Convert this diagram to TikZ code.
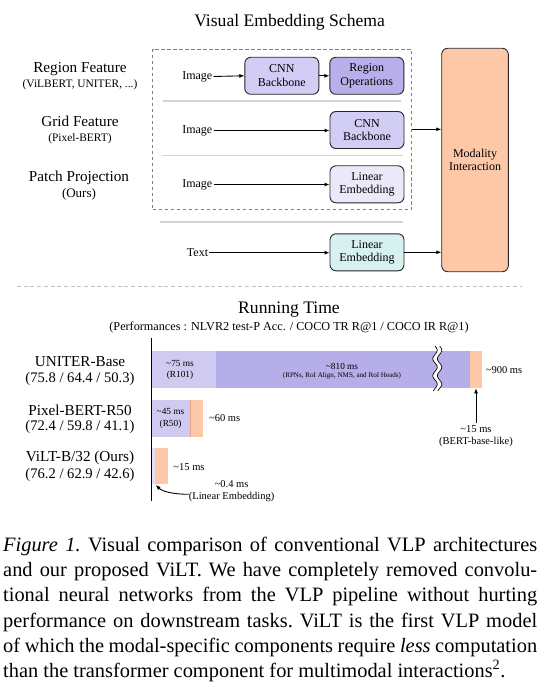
\documentclass[tikz,border=0pt]{standalone}
\usepackage{fontspec}
\setmainfont{Liberation Serif}
\usetikzlibrary{arrows.meta}
\definecolor{cnnfill}{HTML}{D2CDF5}
\definecolor{regfill}{HTML}{B9AFEB}
\definecolor{linfill}{HTML}{EBE8FA}
\definecolor{txtfill}{HTML}{D7F0F0}
\definecolor{modfill}{HTML}{FDC8A8}
\definecolor{barA}{HTML}{CFCAF0}
\definecolor{barB}{HTML}{B6AEE8}
\definecolor{barO}{HTML}{FCC8A8}
\definecolor{barOedge}{HTML}{EBA285}
\definecolor{barT}{HTML}{E2DFF8}
\tikzset{
  blk/.style={draw=black!85, line width=0.9pt, rounded corners=6pt, minimum width=74pt, minimum height=37pt, inner sep=0pt, align=center, font=\fontsize{12}{13.5}\selectfont},
  arr/.style={-{Latex[length=5pt,width=4pt]}, line width=0.9pt},
  mainlbl/.style={font=\fontsize{15.2}{17}\selectfont, inner sep=0pt},
  numlbl/.style={font=\fontsize{14.6}{17}\selectfont, inner sep=0pt},
  sublbl/.style={font=\fontsize{11.4}{13}\selectfont, inner sep=0pt},
  inlbl/.style={font=\fontsize{12}{14}\selectfont, inner sep=0pt, anchor=east},
  ttl/.style={font=\fontsize{17.6}{20}\selectfont, inner sep=0pt},
  perf/.style={font=\fontsize{12.2}{14}\selectfont, inner sep=0pt},
  smlbl/.style={font=\fontsize{9.3}{11.6}\selectfont, inner sep=0pt, align=center},
  tnlbl/.style={font=\fontsize{7.1}{8}\selectfont, inner sep=0pt},
  mslbl/.style={font=\fontsize{10.5}{11.7}\selectfont, inner sep=0pt, align=center},
  sepline/.style={draw=black!17, line width=1.6pt},
  dashbox/.style={draw=black!50, line width=1.4pt, dash pattern=on 3.5pt off 2.5pt, inner sep=0pt},
  dotsep/.style={draw=black!25, line width=1pt, dash pattern=on 4pt off 2.7pt},
  capline/.style={font=\fontsize{20.4}{25}\selectfont\frenchspacing, inner sep=0pt, anchor=base west},
}
\begin{document}
\begin{tikzpicture}[x=1pt,y=-1pt]
\useasboundingbox (0,0) rectangle (540,695);
% ---------- Visual embedding schema ----------
\node[ttl] (t1) at (289.6,22) {Visual Embedding Schema};
\node[dashbox, minimum width=259.2pt, minimum height=160pt] (dash) at (282.1,129.3) {};
\draw[sepline] (163,101) -- (401,101);
\draw[sepline] (162,155.5) -- (403,155.5);
\draw[sepline] (160,221.7) -- (403,221.7);

\node[mainlbl] (rf) at (80,69.5) {Region Feature};
\node[sublbl] (rfs) at (80,85) {(ViLBERT, UNITER, ...)};
\node[mainlbl] (gf) at (80,121.7) {Grid Feature};
\node[sublbl] (gfs) at (80,138.3) {(Pixel-BERT)};
\node[mainlbl] (pp) at (79,177.5) {Patch Projection};
\node[font=\fontsize{13}{14}\selectfont, inner sep=0pt] (pps) at (79,194) {(Ours)};

\node[inlbl] (img1) at (212.5,76.5) {Image};
\node[inlbl] (img2) at (212.5,130.5) {Image};
\node[inlbl] (img3) at (212.5,184.5) {Image};
\node[inlbl] (txt) at (208.3,252.7) {Text};

\node[blk, fill=cnnfill] (cnn1) at (281.8,75.8) {CNN\\Backbone};
\node[blk, fill=regfill] (reg) at (366.8,75.8) {Region\\Operations};
\node[blk, fill=cnnfill] (cnn2) at (367,130) {CNN\\Backbone};
\node[blk, fill=linfill] (lin1) at (367,184.3) {Linear\\Embedding};
\node[blk, fill=txtfill] (lin2) at (367,252.3) {Linear\\Embedding};
\node[blk, fill=modfill, minimum width=66.6pt, minimum height=223.4pt] (mod) at (475,160) {Modality\\Interaction};

\draw[arr, shorten <=1pt] (img1.east) -- (cnn1.west);
\draw[arr] (cnn1.east) -- (reg.west);
\draw[arr, shorten <=1pt] (img2.east) -- (img2.east -| cnn2.west);
\draw[arr, shorten <=1pt] (img3.east) -- (img3.east -| lin1.west);
\draw[arr, shorten <=1pt] (txt.east) -- (txt.east -| lin2.west);
\draw[arr] (dash.east) -- (dash.east -| mod.west);
\draw[arr] (lin2.east) -- (lin2.east -| mod.west);

\draw[dotsep] (17,286.5) -- (522,286.5);

% ---------- Running time ----------
\node[ttl] (rt) at (289,310) {Running Time};
\node[perf] (rts) at (289,327.3) {(Performances : NLVR2 test-P Acc. / COCO TR R@1 / COCO IR R@1)};

% UNITER bar
\fill[barA] (151,350.5) rectangle (216,388);
\fill[barB] (216,350.5) rectangle (469.3,388);
\fill[barO] (469.3,350.5) rectangle (481.7,388);
\draw[barOedge, line width=0.6pt] (469.3,350.5) -- (469.3,388);
% break mark
\draw[white, line width=4.2pt] plot[domain=346:391, samples=60, smooth] ({437.3+2.2*sin((\x-346)*21.2)}, \x);
\draw[black, line width=0.7pt] plot[domain=346:391, samples=60, smooth] ({435+2.2*sin((\x-346)*21.2)}, \x);
\draw[black, line width=0.7pt] plot[domain=346:391, samples=60, smooth] ({439.6+2.2*sin((\x-346)*21.2)}, \x);
% Pixel-BERT bar
\fill[barA] (151,400) rectangle (190,436.7);
\fill[barO] (190,400) rectangle (202.7,436.7);
\draw[barOedge, line width=0.6pt] (190,400) -- (190,436.7);
% ViLT bar
\fill[barT] (151,448) rectangle (155,484.3);
\fill[barO] (155,448) rectangle (167.7,484.3);
% axis
\draw[line width=1pt] (151,338) -- (151,500.5);

\node[smlbl] (u75) at (180,369.8) {\textasciitilde75 ms\\(R101)};
\node[smlbl] (u810) at (342,366) {\textasciitilde810 ms};
\node[tnlbl] (u810s) at (342,375.7) {(RPNs, RoI Align, NMS, and RoI Heads)};
\node[mslbl] (u900) at (504,370) {\textasciitilde900 ms};
\node[mslbl] (b15) at (476,436) {\textasciitilde15 ms\\(BERT-base-like)};
\coordinate (otip) at (476,388.3);
\draw[arr, shorten <=2.5pt] (b15.north) -- (otip);

\node[smlbl] (p45) at (170.5,418.7) {\textasciitilde45 ms\\(R50)};
\node[mslbl] (p60) at (224.7,418.3) {\textasciitilde60 ms};
\node[mslbl] (v15) at (189,466.7) {\textasciitilde15 ms};
\node[mslbl] (v04) at (231.6,484) {\textasciitilde0.4 ms};
\node[mslbl] (vle) at (231.6,497.3) {(Linear Embedding)};
\coordinate (vtip) at (155.7,485);
\draw[arr] ([yshift=3pt]vle.west) .. controls (175,494.3) and (163,492) .. (vtip);

\node[mainlbl] (un) at (80,362) {UNITER-Base};
\node[numlbl] (uns) at (80,379) {(75.8 / 64.4 / 50.3)};
\node[mainlbl] (pb) at (80,410) {Pixel-BERT-R50};
\node[numlbl] (pbs) at (80,426.7) {(72.4 / 59.8 / 41.1)};
\node[mainlbl] (vl) at (80,458) {ViLT-B/32 (Ours)};
\node[numlbl] (vls) at (80,475) {(76.2 / 62.9 / 42.6)};

% ---------- Caption ----------
\node[capline] (c1) at (3,551.7) {\makebox[534pt][s]{\textit{Figure 1.} Visual comparison of conventional VLP architectures}};
\node[capline] (c2) at (3,576.8) {\makebox[534pt][s]{and our proposed ViLT. We have completely removed convolu-}};
\node[capline] (c3) at (3,601.9) {\makebox[534pt][s]{tional neural networks from the VLP pipeline without hurting}};
\node[capline] (c4) at (3,627.0) {\makebox[534pt][s]{performance on downstream tasks. ViLT is the first VLP model}};
\node[capline] (c5) at (3,652.1) {\makebox[534pt][s]{of which the modal-specific components require \textit{less} computation}};
\node[capline] (c6) at (3,677.3) {than the transformer component for multimodal interactions\textsuperscript{2}.};
\end{tikzpicture}
\end{document}
